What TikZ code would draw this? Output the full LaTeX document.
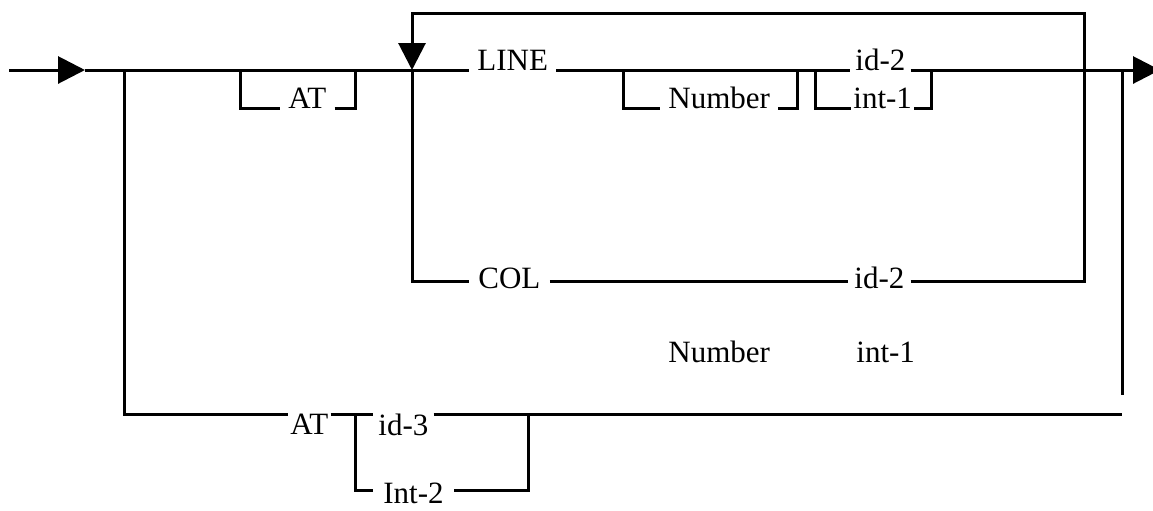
\documentclass[tikz,border=0pt]{standalone}
\usepackage{fontspec}
\setmainfont{Liberation Serif}
\usepackage{tikz}
\usetikzlibrary{arrows.meta}

\begin{document}
\begin{tikzpicture}[
  x=0.5pt, y=-0.5pt,
  flow/.style={line width=1.5pt},
  arr/.style={flow, -{Triangle[length=13.5pt, width=13.5pt]}},
  word/.style={inner ysep=0pt, inner xsep=4pt, font=\fontsize{15.5}{18}\selectfont},
  onmid/.style={word, anchor=west, text height=7pt, text depth=0pt}
]
\useasboundingbox (0,0) rectangle (1153,510);
% junctions of the tracks
\coordinate (in) at (9,70);
\coordinate (tipA) at (85,70);
\coordinate (split) at (124,70);
\coordinate (atL) at (240,70);
\coordinate (atR) at (355,70);
\coordinate (topL) at (412,13);
\coordinate (topR) at (1084,13);
\coordinate (loopJ) at (412,70);
\coordinate (numL) at (623,70);
\coordinate (numR) at (797,70);
\coordinate (intL) at (815,70);
\coordinate (intR) at (931,70);
\coordinate (out) at (1160,70);
\coordinate (backT) at (1122,70);
\coordinate (backB) at (1122,395);
\coordinate (orL) at (355,414);
\coordinate (orR) at (528,414);
\coordinate (botEnd) at (1122,414);

% words
\node[word, anchor=base west] (line) at (469,70) {LINE};
\node[word, anchor=base west] (atTop) at (280,108) {AT};
\node[word, anchor=base west] (numTop) at (660,108) {Number};
\node[word, anchor=base west, inner xsep=1pt] (intTop) at (851,108) {int-1};
\node[word, anchor=base west, inner xsep=2.5pt] (idTop) at (850,70) {id-2};
\node[onmid, inner xsep=4.5pt] (col) at (469,281) {COL};
\node[onmid, inner xsep=3pt] (idCol) at (848,281) {id-2};
\node[word, anchor=base west, inner sep=0pt] (numFree) at (668,362) {Number};
\node[word, anchor=base west, inner sep=0pt] (intFree) at (856,362) {int-1};
\node[word, anchor=north west, inner xsep=1pt] (atBot) at (288,414) {AT};
\node[word, anchor=north west, inner xsep=2.5pt] (id3) at (373,414) {id-3};
\node[word, anchor=west, inner xsep=5pt, text height=13.5pt, text depth=0pt] (int2) at (373,490) {Int-2};

% main track
\draw[arr] (in) -- (tipA);
\draw[flow] (tipA) -- (line.base west);
\draw[flow] (atL) |- (atTop.base west);
\draw[flow] (atTop.base east) -| (atR);
\draw[flow] (line.base east) -- (idTop.base west);
\draw[flow] (numL) |- (numTop.base west);
\draw[flow] (numTop.base east) -| (numR);
\draw[flow] (intL) |- (intTop.base west);
\draw[flow] (intTop.base east) -| (intR);
\draw[arr] (idTop.base east) -- (out);

% COL branch and loop back
\draw[flow] (loopJ) |- (col.west);
\draw[flow] (col.east) -- (idCol.west);
\draw[arr] (idCol.east) -| (topR) -- (topL) -- (loopJ);
\draw[flow] (backT) -- (backB);

% lower AT branch
\draw[flow] (split) |- (atBot.north west);
\draw[flow] (atBot.north east) -- (orL) -- (id3.north west);
\draw[flow] (orL) |- (int2.west);
\draw[flow] (id3.north east) -- (orR) -- (botEnd);
\draw[flow] (int2.east) -| (orR);
\end{tikzpicture}
\end{document}
